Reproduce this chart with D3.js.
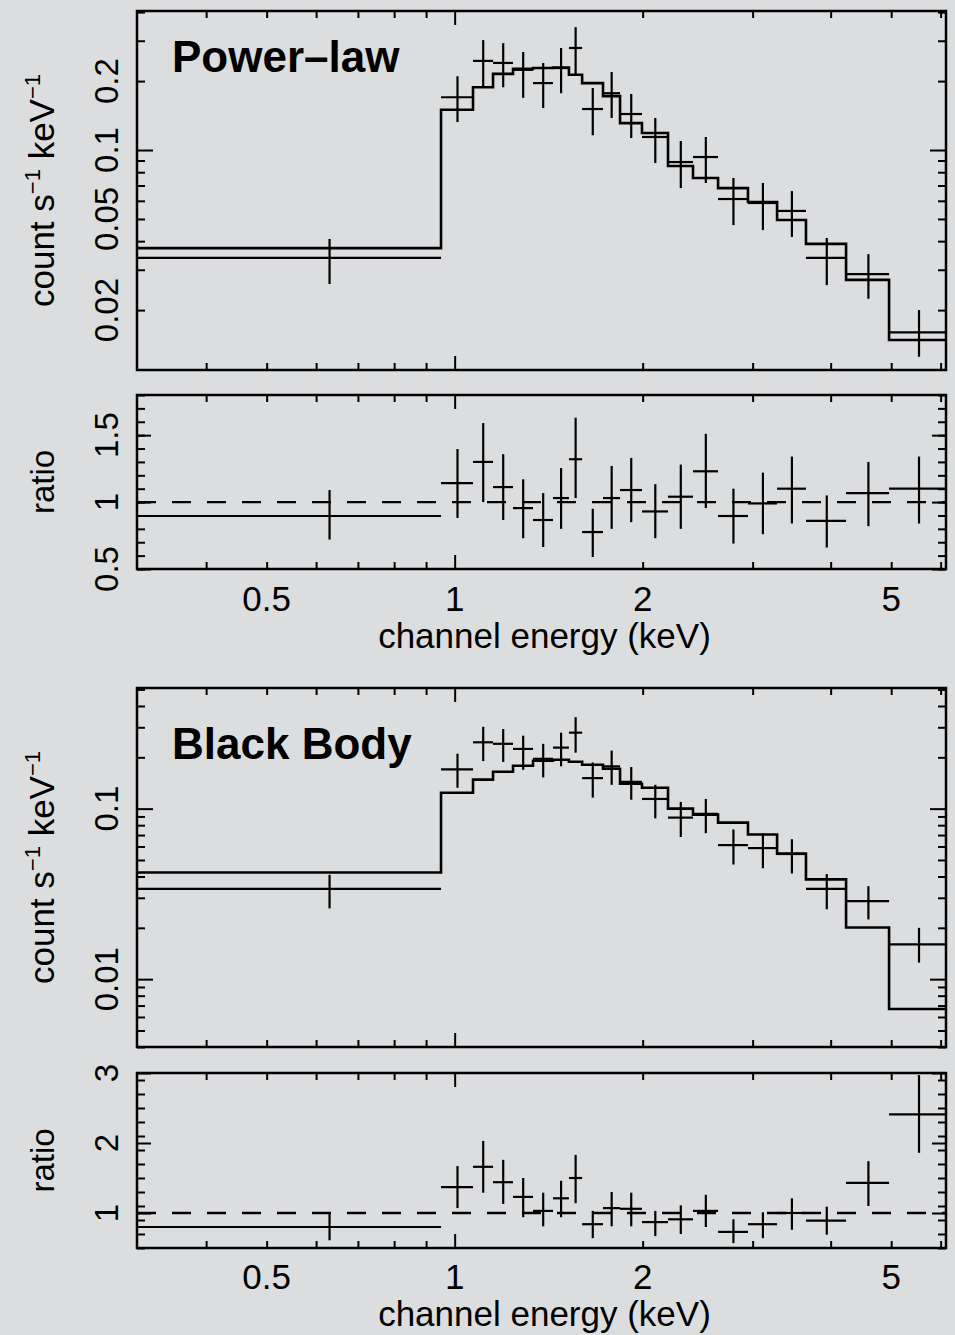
<!DOCTYPE html>
<html lang="en">
<head>
<meta charset="utf-8">
<title>Spectrum fits</title>
<script src="https://d3js.org/d3.v7.min.js"></script>
<style>
  body { margin: 0; background: #dcdddf; }
  text { font-family: "Liberation Sans", Arial, Helvetica, sans-serif; fill: #000; }
  .frame { fill: none; stroke: #000; stroke-width: 2.5px; }
  .tick line { stroke: #000; stroke-width: 2px; }
  .data { stroke: #000; stroke-width: 2.2px; fill: none; }
  .model { stroke: #000; stroke-width: 2.6px; fill: none; }
  .unity { stroke: #000; stroke-width: 2.4px; stroke-dasharray: 19,16; }
</style>
</head>
<body>
<script>
// channel bin edges (keV)
const energyEdges = [0.31, 0.951, 1.070, 1.152, 1.240, 1.335, 1.437, 1.524, 1.600, 1.728,
  1.840, 1.995, 2.196, 2.408, 2.641, 2.949, 3.283, 3.652, 4.234, 4.961, 6.12];

// observed count rate (count s^-1 keV^-1) and error range
const countRate = [0.0338, 0.170, 0.245, 0.240, 0.224, 0.196, 0.228, 0.279, 0.151, 0.177,
  0.1436, 0.114, 0.0886, 0.0932, 0.0611, 0.0587, 0.0542, 0.0338, 0.0287, 0.0160];
const countHi = [0.0409, 0.210, 0.302, 0.293, 0.268, 0.240, 0.279, 0.344, 0.1865, 0.219,
  0.1756, 0.138, 0.1095, 0.114, 0.0755, 0.0718, 0.0662, 0.0413, 0.0351, 0.0200];
const countLo = [0.0260, 0.1325, 0.190, 0.188, 0.169, 0.1525, 0.177, 0.213, 0.116, 0.138,
  0.1128, 0.0877, 0.0682, 0.0718, 0.047, 0.0447, 0.0417, 0.0257, 0.0224, 0.0125];

// power-law model and ratio
const powerLawModel = [0.0373, 0.150, 0.188, 0.215, 0.226, 0.228, 0.229, 0.213, 0.196, 0.172,
  0.131, 0.1186, 0.0851, 0.0755, 0.0682, 0.0593, 0.0495, 0.0389, 0.0271, 0.0148];
const powerLawRatio = [0.896, 1.142, 1.30, 1.112, 0.955, 0.866, 1.03, 1.32, 0.776, 1.03,
  1.09, 0.93, 1.04, 1.23, 0.896, 0.99, 1.10, 0.86, 1.067, 1.10];
const powerLawRatioHi = [1.09, 1.396, 1.59, 1.358, 1.17, 1.067, 1.254, 1.63, 0.95, 1.27,
  1.33, 1.134, 1.28, 1.51, 1.10, 1.22, 1.34, 1.05, 1.30, 1.34];
const powerLawRatioLo = [0.72, 0.881, 1.0, 0.866, 0.73, 0.664, 0.80, 1.03, 0.59, 0.80,
  0.85, 0.73, 0.80, 0.955, 0.69, 0.76, 0.84, 0.66, 0.82, 0.84];

// black body model and ratio
const blackBodyModel = [0.0422, 0.124, 0.148, 0.1646, 0.1785, 0.191, 0.1935, 0.1884, 0.181, 0.1714,
  0.140, 0.1327, 0.100, 0.0922, 0.0828, 0.0705, 0.0545, 0.0385, 0.0201, 0.00668];
const blackBodyRatio = [0.80, 1.37, 1.66, 1.44, 1.23, 1.03, 1.21, 1.50, 0.84, 1.07,
  1.06, 0.87, 0.91, 1.03, 0.73, 0.84, 1.0, 0.89, 1.43, 2.41];
const blackBodyRatioHi = [1.0, 1.67, 2.03, 1.76, 1.50, 1.29, 1.46, 1.83, 1.03, 1.30,
  1.29, 1.03, 1.11, 1.26, 0.91, 1.01, 1.21, 1.09, 1.74, 2.97];
const blackBodyRatioLo = [0.61, 1.07, 1.29, 1.13, 0.94, 0.81, 0.94, 1.14, 0.64, 0.81,
  0.81, 0.67, 0.70, 0.80, 0.57, 0.64, 0.76, 0.69, 1.10, 1.86];

// tick labels
const energyLabels = [0.5, 1, 2, 5];
const powerLawLabels = [0.02, 0.05, 0.1, 0.2];
const blackBodyLabels = [0.01, 0.1];
const ratioLabels1 = [0.5, 1, 1.5];
const ratioLabels2 = [1, 2, 3];

const W = 955, H = 1335;
const left = 137, right = 946;

const svg = d3.select("body").append("svg")
  .attr("width", W).attr("height", H);
svg.append("rect").attr("width", W).attr("height", H).attr("fill", "#dcdddf");

const x = d3.scaleLog().domain([0.31, 6.12]).range([left, right]);

const bins = countRate.map((d, i) => ({
  lo: energyEdges[i], hi: energyEdges[i + 1],
  mid: (energyEdges[i] + energyEdges[i + 1]) / 2,
  rate: d, rateHi: countHi[i], rateLo: countLo[i]
}));

const xMinor = [0.4, 0.5, 0.6, 0.7, 0.8, 0.9, 2, 3, 4, 5, 6];
const xMajor = [1];

function logMinor(lo, hi) {
  const out = [];
  for (let e = -3; e <= 0; e++) {
    for (let k = 1; k <= 9; k++) {
      const v = k * Math.pow(10, e);
      if (v >= lo && v <= hi) out.push(+v.toPrecision(3));
    }
  }
  return out;
}

function ticks(g, y, top, bottom, yMajor, yMinor, majLen) {
  const add = (axis, tr) => {
    const a = g.append("g").attr("transform", tr).call(axis);
    a.select(".domain").remove();
  };
  add(d3.axisBottom(x).tickValues(xMinor).tickSize(-7).tickFormat(""), `translate(0,${bottom})`);
  add(d3.axisBottom(x).tickValues(xMajor).tickSize(-14).tickFormat(""), `translate(0,${bottom})`);
  add(d3.axisTop(x).tickValues(xMinor).tickSize(-7).tickFormat(""), `translate(0,${top})`);
  add(d3.axisTop(x).tickValues(xMajor).tickSize(-14).tickFormat(""), `translate(0,${top})`);
  add(d3.axisLeft(y).tickValues(yMinor).tickSize(-8).tickFormat(""), `translate(${left},0)`);
  add(d3.axisLeft(y).tickValues(yMajor).tickSize(-majLen).tickFormat(""), `translate(${left},0)`);
  add(d3.axisRight(y).tickValues(yMinor).tickSize(-8).tickFormat(""), `translate(${right},0)`);
  add(d3.axisRight(y).tickValues(yMajor).tickSize(-majLen).tickFormat(""), `translate(${right},0)`);
  g.append("rect").attr("class", "frame")
    .attr("x", left).attr("y", top)
    .attr("width", right - left).attr("height", bottom - top);
}

function yLabels(g, y, values, fmt) {
  values.forEach(v => {
    const yy = y(v);
    g.append("text")
      .attr("x", 118).attr("y", yy)
      .attr("transform", `rotate(-90,118,${yy})`)
      .attr("text-anchor", "middle")
      .attr("font-size", 33)
      .text(fmt(v));
  });
}

function yTitle(g, cy, kind) {
  const t = g.append("text")
    .attr("x", 54).attr("y", cy)
    .attr("transform", `rotate(-90,54,${cy})`)
    .attr("text-anchor", "middle")
    .attr("font-size", kind === "ratio" ? 33 : 35);
  if (kind === "ratio") {
    t.text("ratio");
  } else {
    t.append("tspan").text("count s");
    t.append("tspan").attr("font-size", 22).attr("dy", -14).text("\u22121");
    t.append("tspan").attr("dy", 14).text(" keV");
    t.append("tspan").attr("font-size", 22).attr("dy", -14).text("\u22121");
  }
}

function spectrumPanel(top, bottom, yDomain, model, labels, title, titleY) {
  const g = svg.append("g");
  const y = d3.scaleLog().domain(yDomain).range([bottom, top]);
  const dec = [0.01, 0.1].filter(v => v >= yDomain[0] && v <= yDomain[1]);
  const minor = logMinor(yDomain[0], yDomain[1]).filter(v => !dec.includes(v));
  ticks(g, y, top, bottom, dec, minor, 16);

  // model histogram
  const steps = model.map((m, i) => ({ e: energyEdges[i], v: m }));
  steps.push({ e: energyEdges[energyEdges.length - 1], v: model[model.length - 1] });
  g.append("path").datum(steps).attr("class", "model")
    .attr("d", d3.line().curve(d3.curveStepAfter).x(d => x(d.e)).y(d => y(d.v)));

  // data crosses
  const cross = g.selectAll(".cross").data(bins).join("g");
  cross.append("line").attr("class", "data")
    .attr("x1", d => x(d.lo)).attr("x2", d => x(d.hi))
    .attr("y1", d => y(d.rate)).attr("y2", d => y(d.rate));
  cross.append("line").attr("class", "data")
    .attr("x1", d => x(d.mid)).attr("x2", d => x(d.mid))
    .attr("y1", d => y(d.rateHi)).attr("y2", d => y(d.rateLo));

  yLabels(g, y, labels, d3.format("~g"));
  yTitle(g, (top + bottom) / 2, "count");

  g.append("text").attr("x", 172).attr("y", titleY)
    .attr("font-size", 44).attr("font-weight", "bold").text(title);
}

function ratioPanel(top, bottom, yDomain, ratio, hi, lo, labels, minorStep, axisY) {
  const g = svg.append("g");
  const y = d3.scaleLinear().domain(yDomain).range([bottom, top]);
  const minor = d3.range(yDomain[0], yDomain[1] + 1e-9, minorStep).map(v => +v.toFixed(2));
  ticks(g, y, top, bottom, labels, minor, 14);

  g.append("line").attr("class", "unity")
    .attr("x1", left).attr("x2", right)
    .attr("y1", y(1)).attr("y2", y(1));

  const cross = g.selectAll(".cross").data(bins).join("g");
  cross.append("line").attr("class", "data")
    .attr("x1", d => x(d.lo)).attr("x2", d => x(d.hi))
    .attr("y1", (d, i) => y(ratio[i])).attr("y2", (d, i) => y(ratio[i]));
  cross.append("line").attr("class", "data")
    .attr("x1", d => x(d.mid)).attr("x2", d => x(d.mid))
    .attr("y1", (d, i) => y(Math.min(hi[i], yDomain[1]))).attr("y2", (d, i) => y(lo[i]));

  yLabels(g, y, labels, d3.format("~g"));
  yTitle(g, (top + bottom) / 2, "ratio");

  energyLabels.forEach(v => {
    g.append("text").attr("x", x(v)).attr("y", axisY)
      .attr("text-anchor", "middle").attr("font-size", 35).text(v);
  });
  g.append("text").attr("x", (left + right) / 2 + 3).attr("y", axisY + 37)
    .attr("text-anchor", "middle").attr("font-size", 35)
    .text("channel energy (keV)");
}

spectrumPanel(11, 370, [0.01095, 0.4046], powerLawModel, powerLawLabels, "Power\u2013law", 72);
ratioPanel(395, 569, [0.5, 1.8], powerLawRatio, powerLawRatioHi, powerLawRatioLo, ratioLabels1, 0.1, 611);
spectrumPanel(688, 1047, [0.004, 0.51], blackBodyModel, blackBodyLabels, "Black Body", 759);
ratioPanel(1073, 1248, [0.5, 3], blackBodyRatio, blackBodyRatioHi, blackBodyRatioLo, ratioLabels2, 0.2, 1289);
</script>
</body>
</html>
